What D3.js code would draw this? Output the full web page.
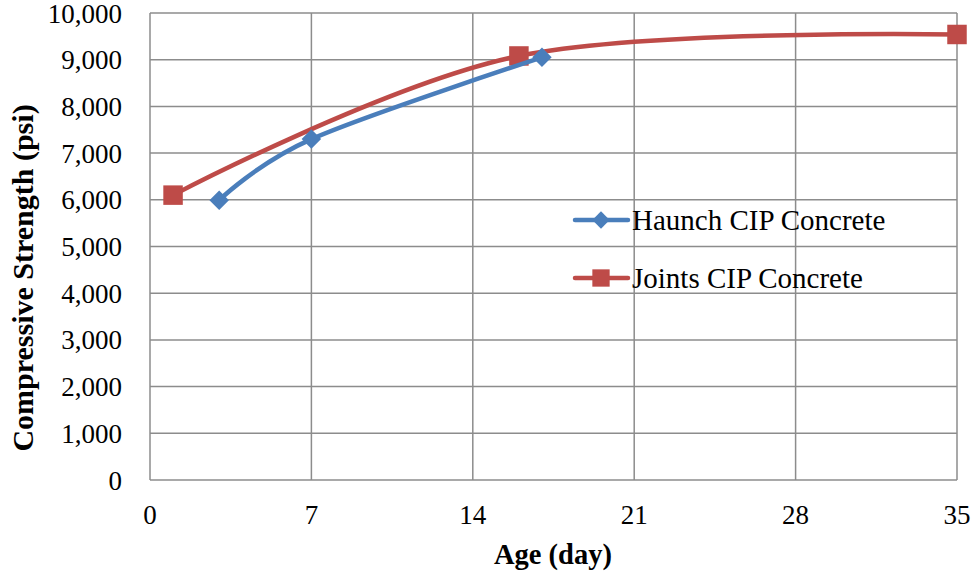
<!DOCTYPE html>
<html>
<head>
<meta charset="utf-8">
<script src="https://cdn.jsdelivr.net/npm/d3@7"></script>
<style>
  body { margin: 0; background: #fff; }
</style>
</head>
<body>
<div id="chart"></div>
<script>
// age in days / strength in psi
var haunchAge = [3, 7, 17];
var haunchStrength = [5990, 7300, 9050];
var jointsAge = [1, 16, 35];
var jointsStrength = [6100, 9080, 9540];
var xTicks = [0, 7, 14, 21, 28, 35];
var yTicks = [0, 1000, 2000, 3000, 4000, 5000, 6000, 7000, 8000, 9000, 10000];
var seriesNames = ["Haunch CIP Concrete", "Joints CIP Concrete"];

var width = 974, height = 573;
var margin = {left: 150, right: 17, top: 13, bottom: 93};
var serif = "'Liberation Serif', 'DejaVu Serif', serif";

var x = d3.scaleLinear().domain([0, 35]).range([margin.left, width - margin.right]);
var y = d3.scaleLinear().domain([0, 10000]).range([height - margin.bottom, margin.top]);

var svg = d3.select("#chart").append("svg")
    .attr("width", width)
    .attr("height", height)
    .attr("font-family", serif);

var gridColor = "#8c8c8c";

// gridlines (also make the frame)
svg.append("g")
    .selectAll("line")
    .data(yTicks)
    .join("line")
    .attr("x1", x(0)).attr("x2", x(35))
    .attr("y1", d => y(d)).attr("y2", d => y(d))
    .attr("stroke", gridColor).attr("stroke-width", 1.5);

svg.append("g")
    .selectAll("line")
    .data(xTicks)
    .join("line")
    .attr("y1", y(0)).attr("y2", y(10000))
    .attr("x1", d => x(d)).attr("x2", d => x(d))
    .attr("stroke", gridColor).attr("stroke-width", 1.5);

// tick labels
var fmt = d3.format(",d");
svg.append("g")
    .selectAll("text")
    .data(yTicks)
    .join("text")
    .attr("x", 122)
    .attr("y", d => y(d) + 9.5)
    .attr("text-anchor", "end")
    .attr("font-size", 27)
    .text(d => fmt(d));

svg.append("g")
    .selectAll("text")
    .data(xTicks)
    .join("text")
    .attr("x", d => x(d))
    .attr("y", 524)
    .attr("text-anchor", "middle")
    .attr("font-size", 27)
    .text(d => d);

// axis titles
svg.append("text")
    .attr("x", 553).attr("y", 564)
    .attr("text-anchor", "middle")
    .attr("font-size", 28.5)
    .attr("font-weight", "bold")
    .text("Age (day)");

svg.append("text")
    .attr("transform", "translate(33,278) rotate(-90)")
    .attr("text-anchor", "middle")
    .attr("font-size", 30)
    .attr("font-weight", "bold")
    .text("Compressive Strength (psi)");

var colors = ["#4a7ebb", "#be4b48"];
var line = d3.line()
    .x(d => x(d[0]))
    .y(d => y(d[1]))
    .curve(d3.curveCardinal.tension(0));

var haunch = d3.zip(haunchAge, haunchStrength);
var joints = d3.zip(jointsAge, jointsStrength);

// diamond = square turned 45 degrees, like Excel's marker
function drawSeries(pts, color, rot, size) {
    svg.append("path")
        .datum(pts)
        .attr("d", line)
        .attr("fill", "none")
        .attr("stroke", color)
        .attr("stroke-width", 4.5)
        .attr("stroke-linejoin", "round");
    svg.append("g")
        .selectAll("path")
        .data(pts)
        .join("path")
        .attr("transform", d => "translate(" + x(d[0]) + "," + y(d[1]) + ") rotate(" + rot + ")")
        .attr("d", d3.symbol().type(d3.symbolSquare).size(size))
        .attr("fill", color);
}

drawSeries(joints, colors[1], 0, 380);
drawSeries(haunch, colors[0], 45, 190);

// legend
var legend = svg.append("g");
var legendY = [220, 278];
var rots = [45, 0], sizes = [150, 300];
seriesNames.forEach(function(name, i) {
    legend.append("line")
        .attr("x1", 575).attr("x2", 628)
        .attr("y1", legendY[i]).attr("y2", legendY[i])
        .attr("stroke", colors[i]).attr("stroke-width", 4.5)
        .attr("stroke-linecap", "round");
    legend.append("path")
        .attr("transform", "translate(601," + legendY[i] + ") rotate(" + rots[i] + ")")
        .attr("d", d3.symbol().type(d3.symbolSquare).size(sizes[i]))
        .attr("fill", colors[i]);
    legend.append("text")
        .attr("x", 632)
        .attr("y", legendY[i] + 10)
        .attr("font-size", 29)
        .text(name);
});
</script>
</body>
</html>
